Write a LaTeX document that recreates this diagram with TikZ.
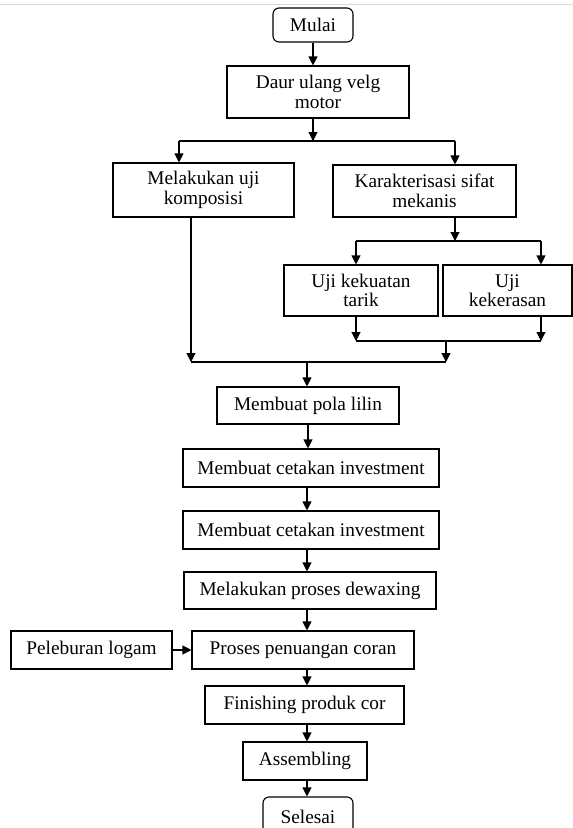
\documentclass[tikz,border=0pt]{standalone}
\usepackage{fontspec}
\setmainfont{Liberation Serif}
\usetikzlibrary{arrows.meta}
\begin{document}
\begin{tikzpicture}[x=1pt,y=-1pt,
  box/.style={draw, line width=1.1pt, rectangle, inner sep=0pt, align=center, font=\fontsize{19.3}{19.5}\selectfont},
  term/.style={box, rounded corners=6pt},
  ln/.style={line width=1.1pt},
  arr/.style={ln, -{Triangle[width=9pt,length=9pt]}}]
\useasboundingbox (0,0) rectangle (573,828);
\clip (0,0) rectangle (573,828);
\fill[white] (0,0) rectangle (573,828);
\draw[black!15, line width=1pt] (0,4) -- (573,4);

% nodes
\node[term, minimum width=80, minimum height=34] (mulai) at (313,25) {Mulai};
\node[box, minimum width=182, minimum height=52] (daur) at (318,92) {Daur ulang velg\\motor};
\node[box, minimum width=181, minimum height=54] (komp) at (203.5,190) {Melakukan uji\\komposisi};
\node[box, minimum width=183, minimum height=52] (kar) at (424.5,191) {Karakterisasi sifat\\mekanis};
\node[box, minimum width=154, minimum height=51] (tarik) at (361,290.5) {Uji kekuatan\\tarik};
\node[box, minimum width=129, minimum height=51] (keras) at (507.5,290.5) {Uji\\kekerasan};
\node[box, minimum width=182, minimum height=37] (pola) at (308,405.5) {Membuat pola lilin};
\node[box, minimum width=256, minimum height=38] (cet1) at (311,468) {Membuat cetakan investment};
\node[box, minimum width=256, minimum height=38] (cet2) at (311,530) {Membuat cetakan investment};
\node[box, minimum width=252, minimum height=37] (dewax) at (310,590.5) {Melakukan proses dewaxing};
\node[box, minimum width=161, minimum height=38] (lebur) at (91.5,650) {Peleburan logam};
\node[box, minimum width=222, minimum height=38] (tuang) at (303,650) {Proses penuangan coran};
\node[box, minimum width=199, minimum height=38] (finish) at (304.5,705) {Finishing produk cor};
\node[box, minimum width=124, minimum height=38] (assem) at (305,761) {Assembling};
\node[term, minimum width=90, minimum height=40] (selesai) at (308,817) {Selesai};

% junction coordinates
\coordinate (s1M) at (313,141);
\coordinate (s1L) at (179,141);
\coordinate (s1R) at (455,141);
\coordinate (s2M) at (455,241);
\coordinate (s2L) at (356,241);
\coordinate (s2R) at (541,241);
\coordinate (m2L) at (356,341);
\coordinate (m2R) at (541,341);
\coordinate (m2M) at (446,341);
\coordinate (m1L) at (191,362);
\coordinate (m1R) at (446,362);
\coordinate (m1M) at (307,362);
\coordinate (p1) at (308,424);

% connectors
\draw[arr] (mulai.south -| s1M) -- (s1M |- daur.north);
\draw[arr] (s1M |- daur.south) -- (s1M);
\draw[ln] (s1L) -- (s1R);
\draw[arr] (s1L) -- (s1L |- komp.north);
\draw[arr] (s1R) -- (s1R |- kar.north);

\draw[arr] (s2M |- kar.south) -- (s2M);
\draw[ln] (s2L) -- (s2R);
\draw[arr] (s2L) -- (s2L |- tarik.north);
\draw[arr] (s2R) -- (s2R |- keras.north);

\draw[arr] (m2L |- tarik.south) -- (m2L);
\draw[arr] (m2R |- keras.south) -- (m2R);
\draw[ln] (m2L) -- (m2R);
\draw[arr] (m2M) -- (m1R);

\draw[arr] (m1L |- komp.south) -- (m1L);
\draw[ln] (m1L) -- (m1R);
\draw[arr] (m1M) -- (m1M |- pola.north);

\draw[arr] (pola.south -| p1) -- (p1 |- cet1.north);
\draw[arr] (cet1.south -| m1M) -- (m1M |- cet2.north);
\draw[arr] (cet2.south -| m1M) -- (m1M |- dewax.north);
\draw[arr] (dewax.south -| m1M) -- (m1M |- tuang.north);
\draw[arr] (lebur.east) -- (tuang.west);
\draw[arr] (tuang.south -| m1M) -- (m1M |- finish.north);
\draw[arr] (finish.south -| m1M) -- (m1M |- assem.north);
\draw[arr] (assem.south -| m1M) -- (m1M |- selesai.north);
\end{tikzpicture}
\end{document}
